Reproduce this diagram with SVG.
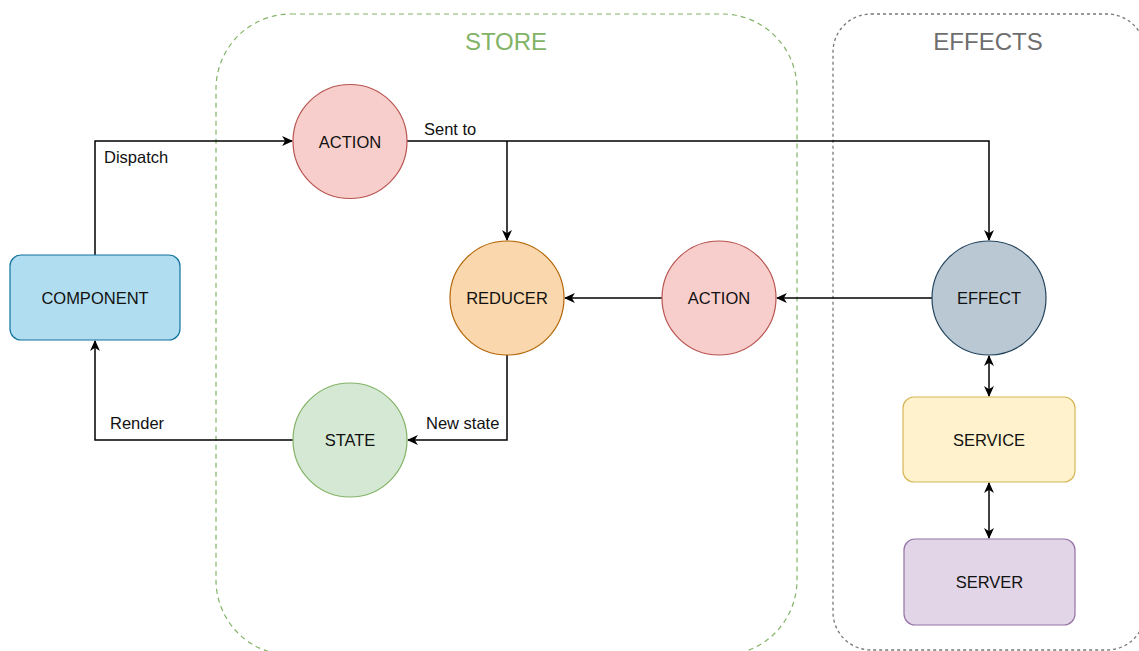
<svg xmlns="http://www.w3.org/2000/svg" width="1139" height="651" viewBox="0 0 1139 651">
<style>
  text { font-family: "Liberation Sans", Arial, sans-serif; }
  .lbl { font-size: 16.5px; fill: #111111; text-anchor: middle; }
  .edge-lbl { font-size: 16.5px; fill: #111111; }
  .title { font-size: 24px; text-anchor: middle; }
  .conn { fill: none; stroke: #000000; stroke-width: 1.5; }
</style>
<defs>
  <marker id="arr" viewBox="0 0 10 10" refX="9" refY="5" markerWidth="11" markerHeight="11" markerUnits="userSpaceOnUse" orient="auto-start-reverse">
    <path d="M0,0.5 L10,5 L0,9.5 L2.8,5 Z" fill="#000000"/>
  </marker>
</defs>
<rect width="1139" height="651" fill="#ffffff"/>

<g id="store">
  <rect x="216" y="14" width="581" height="641" rx="75" ry="75" fill="none" stroke="#82b366" stroke-width="1.2" stroke-dasharray="5 4"/>
  <text class="title" x="506" y="50" fill="#82b366">STORE</text>
</g>
<g id="effects">
  <rect x="833" y="14" width="312" height="636" rx="38" ry="38" fill="none" stroke="#777777" stroke-width="1.3" stroke-dasharray="3 3"/>
  <text class="title" x="988" y="50" fill="#6e6e6e">EFFECTS</text>
</g>

<g id="connectors">
  <path class="conn" d="M95,255 V141 H292" marker-end="url(#arr)"/>
  <path class="conn" d="M407,141 H989 V240" marker-end="url(#arr)"/>
  <path class="conn" d="M507,141 V240" marker-end="url(#arr)"/>
  <path class="conn" d="M932,298 H777" marker-end="url(#arr)"/>
  <path class="conn" d="M662,298 H565" marker-end="url(#arr)"/>
  <path class="conn" d="M507,355 V440 H408" marker-end="url(#arr)"/>
  <path class="conn" d="M294,440 H95 V341" marker-end="url(#arr)"/>
  <path class="conn" d="M989,356 V396" marker-start="url(#arr)" marker-end="url(#arr)"/>
  <path class="conn" d="M989,483 V538" marker-start="url(#arr)" marker-end="url(#arr)"/>
  <text class="edge-lbl" x="104" y="163">Dispatch</text>
  <text class="edge-lbl" x="424" y="135">Sent to</text>
  <text class="edge-lbl" x="426" y="429">New state</text>
  <text class="edge-lbl" x="110" y="429">Render</text>
</g>

<g id="component">
  <rect x="10" y="255" width="170" height="85" rx="11" ry="11" fill="#b1ddf0" stroke="#10739e" stroke-width="1.2"/>
  <text class="lbl" x="95" y="303.5">COMPONENT</text>
</g>
<g id="action1">
  <circle cx="350" cy="141.5" r="57" fill="#f8cecc" stroke="#b85450" stroke-width="1.2"/>
  <text class="lbl" x="350" y="147.5">ACTION</text>
</g>
<g id="reducer">
  <circle cx="507" cy="298" r="57" fill="#fad7ac" stroke="#b46504" stroke-width="1.2"/>
  <text class="lbl" x="507" y="304">REDUCER</text>
</g>
<g id="action2">
  <circle cx="719" cy="298" r="57" fill="#f8cecc" stroke="#b85450" stroke-width="1.2"/>
  <text class="lbl" x="719" y="304">ACTION</text>
</g>
<g id="effect">
  <circle cx="989" cy="298" r="57" fill="#bac8d3" stroke="#23445d" stroke-width="1.2"/>
  <text class="lbl" x="989" y="304">EFFECT</text>
</g>
<g id="state">
  <circle cx="350" cy="440" r="57" fill="#d5e8d4" stroke="#82b366" stroke-width="1.2"/>
  <text class="lbl" x="350" y="446">STATE</text>
</g>
<g id="service">
  <rect x="903" y="397" width="172" height="85" rx="11" ry="11" fill="#fff2cc" stroke="#d6b656" stroke-width="1.2"/>
  <text class="lbl" x="989" y="446">SERVICE</text>
</g>
<g id="server">
  <rect x="904" y="539" width="171" height="86" rx="11" ry="11" fill="#e1d5e7" stroke="#9673a6" stroke-width="1.2"/>
  <text class="lbl" x="989.5" y="588">SERVER</text>
</g>
</svg>
